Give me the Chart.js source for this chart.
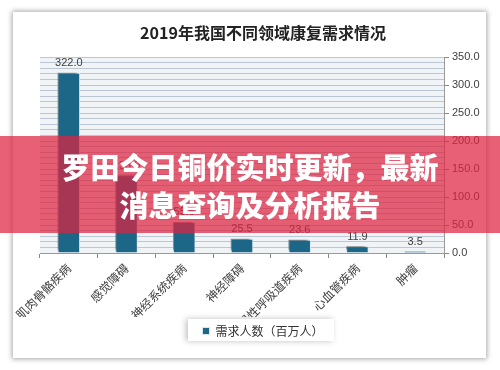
<!DOCTYPE html>
<html lang="zh">
<head>
  <meta charset="UTF-8" />
  <title>2019年我国不同领域康复需求情况</title>
  <script src="https://cdn.jsdelivr.net/npm/chart.js"></script>
  <style>
    html, body { margin: 0; padding: 0; background: #fff; }
    body { width: 500px; height: 370px; position: relative; overflow: hidden; }
    #card {
      position: absolute; left: 13px; top: 12px; width: 473px; height: 346px;
      background: #fff; box-shadow: 0 0 5px 1px rgba(0,0,0,0.35);
    }
    #banner {
      position: absolute; left: 0; top: 136px; width: 500px; height: 97px;
      background: rgba(222, 34, 64, 0.72);
      color: #fff; text-align: center;
      font-family: "Noto Sans CJK SC", sans-serif; font-weight: 900;
      font-size: 29px; line-height: 38px; padding-top: 11px; box-sizing: border-box;
    }
  </style>
</head>
<body>
  <div id="card"><canvas id="chart" width="473" height="346"></canvas></div>
  <div id="banner">罗田今日铜价实时更新，最新<br>消息查询及分析报告</div>

  <script>
    // данные
    const categories = ['肌肉骨骼疾病', '感觉障碍', '神经系统疾病', '神经障碍', '慢性呼吸道疾病', '心血管疾病', '肿瘤'];
    const demand = [322.0, 138.9, 55.5, 25.5, 23.6, 11.9, 3.5];
    const seriesName = '需求人数（百万人）';

    const cjk = '"Noto Sans CJK SC", sans-serif';

    // фон области графика, рамка легенды, тени столбцов
    const plotBg = {
      id: 'plotBg',
      beforeDraw(chart) {
        const { ctx, chartArea: a } = chart;
        ctx.save();
        ctx.fillStyle = '#f1f4f7';
        ctx.fillRect(a.left, a.top, a.right - a.left, a.bottom - a.top);
        const l = chart.legend;
        ctx.shadowColor = 'rgba(0,0,0,0.25)';
        ctx.shadowBlur = 6;
        ctx.shadowOffsetX = -2;
        ctx.fillStyle = '#fff';
        const w = 146;
        ctx.fillRect((l.left + l.right) / 2 - w / 2 - 2, l.top + 2, w, 22);
        ctx.restore();
      },
      beforeDatasetsDraw(chart) {
        const ctx = chart.ctx;
        ctx.save();
        ctx.shadowColor = 'rgba(60,60,60,0.55)';
        ctx.shadowBlur = 2;
        ctx.shadowOffsetX = -3;
        ctx.shadowOffsetY = -3;
      },
      afterDatasetsDraw(chart) {
        const ctx = chart.ctx;
        ctx.restore();
        // подписи значений
        ctx.save();
        ctx.font = '11px "Liberation Sans", sans-serif';
        ctx.fillStyle = '#404040';
        ctx.textAlign = 'center';
        ctx.textBaseline = 'bottom';
        chart.getDatasetMeta(0).data.forEach((bar, i) => {
          ctx.fillText(demand[i].toFixed(1), bar.x, bar.y - 4);
        });
        ctx.restore();
      }
    };

    new Chart(document.getElementById('chart'), {
      type: 'bar',
      data: {
        labels: categories,
        datasets: [{
          label: seriesName,
          data: demand,
          backgroundColor: '#1c6688',
          borderColor: '#d6e8f0',
          borderWidth: 1,
          categoryPercentage: 1,
          barPercentage: 0.39
        }]
      },
      options: {
        responsive: false,
        animation: false,
        layout: { padding: { left: 27, right: 0, top: 0, bottom: 11 } },
        plugins: {
          title: {
            display: true,
            text: '2019年我国不同领域康复需求情况',
            color: '#222',
            font: { family: cjk, size: 16, weight: 'bold' },
            padding: { top: 11, bottom: 15 }
          },
          legend: {
            position: 'bottom',
            labels: {
              boxWidth: 7, boxHeight: 7, color: '#333',
              font: { family: cjk, size: 12 }, padding: 8
            }
          },
          tooltip: { enabled: false }
        },
        scales: {
          x: {
            grid: { drawOnChartArea: false, tickLength: 5, color: '#888' },
            border: { color: '#999' },
            ticks: {
              maxRotation: 45, minRotation: 45, autoSkip: false,
              color: '#404040', font: { family: cjk, size: 12 }
            },
            afterFit(s) { s.height = 64; }
          },
          y: {
            position: 'right',
            min: 0, max: 350,
            grid: {
              color: '#bcc7d3',
              tickLength: 5,
              tickColor: c => (c.tick && c.tick.value % 50 === 0) ? '#888' : 'rgba(0,0,0,0)'
            },
            border: { color: '#999' },
            ticks: {
              stepSize: 10,
              autoSkip: false,
              color: '#404040',
              font: { family: '"Liberation Sans", sans-serif', size: 11 },
              callback: v => v % 50 === 0 ? v.toFixed(1) : ''
            },
            afterFit(s) { s.width = 42; }
          }
        }
      },
      plugins: [plotBg]
    });
  </script>
</body>
</html>
